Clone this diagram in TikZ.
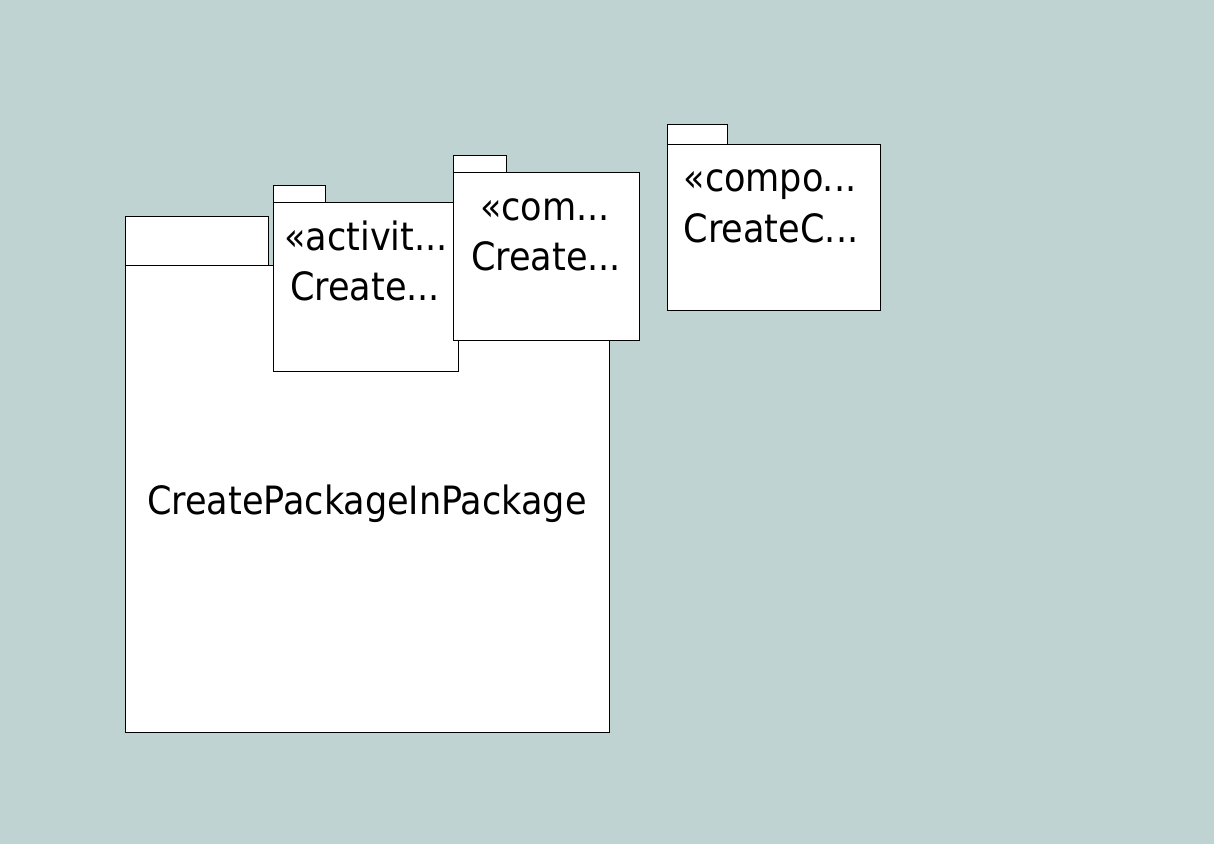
\documentclass[tikz,border=0pt]{standalone}
\usepackage{fontspec}
\setmainfont{DejaVu Sans Condensed}
\definecolor{bgc}{RGB}{190,211,210}
\tikzset{
  pkg/.style={draw=black, fill=white, line width=1pt},
  lbl/.style={font=\fontsize{39}{48}\selectfont, anchor=base, inner sep=0pt}
}
\begin{document}
\begin{tikzpicture}[x=1pt,y=-1pt]
\useasboundingbox (0,0) rectangle (1231,861);
\fill[white] (0,0) rectangle (1231,861);
\fill[bgc] (0,0) rectangle (1214,844);
% main package
\draw[pkg] (125,217) rectangle (268,265);
\draw[pkg] (125,265) rectangle (609,732);
\node[lbl] (mainName) at (367,514) {CreatePackageInPackage};
% activity package
\draw[pkg] (273,186) rectangle (325,203);
\draw[pkg] (273,203) rectangle (458,371);
\node[lbl] (actSt) at (366,250) {«activit...};
\node[lbl] (actNm) at (365,300) {Create...};
% com package
\draw[pkg] (453,156) rectangle (506,173);
\draw[pkg] (453,173) rectangle (639,340);
\node[lbl] (comSt) at (545,220) {«com...};
\node[lbl] (comNm) at (546,270) {Create...};
% compo package
\draw[pkg] (667,125) rectangle (727,145);
\draw[pkg] (667,145) rectangle (880,310);
\node[lbl] (cmpSt) at (770,192) {«compo...};
\node[lbl] (cmpNm) at (771,242) {CreateC...};
\end{tikzpicture}
\end{document}
